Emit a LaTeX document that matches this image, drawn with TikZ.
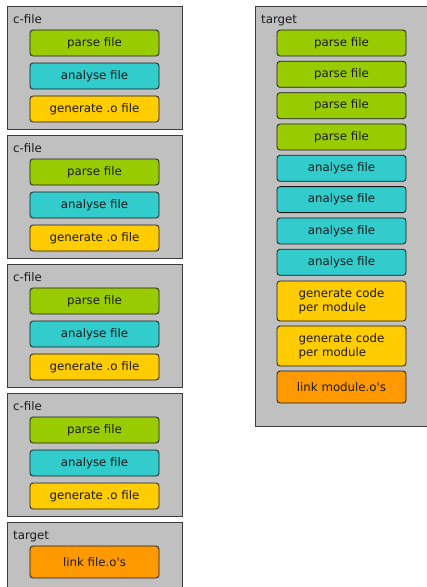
\documentclass[tikz,border=0pt]{standalone}
\usepackage{fontspec}
\newfontfamily\dejavu{DejaVu Sans}
\usetikzlibrary{positioning}
\definecolor{Frame}{HTML}{C0C0C0}
\definecolor{Parse}{HTML}{99CC00}
\definecolor{Analyse}{HTML}{33CCCC}
\definecolor{Gen}{HTML}{FFCC00}
\definecolor{Link}{HTML}{FF9900}
\definecolor{Ink}{HTML}{1A1A1A}

\begin{document}
\begin{tikzpicture}[x=1pt,y=-1pt,
  every node/.style={font=\dejavu\fontsize{11.8}{13.7}\selectfont,text=Ink},
  frame/.style={draw=Ink!85,fill=Frame,line width=0.9pt,anchor=north west,inner sep=0pt},
  task/.style={draw=Ink,line width=0.8pt,rounded corners=3pt,minimum width=129pt,minimum height=26pt,inner sep=1pt},
  tag/.style={anchor=base west,inner sep=0pt}]
\useasboundingbox (0,0) rectangle (427,587);
% one box per c-file
\foreach \i/\y in {1/6,2/135,3/264,4/393} {
  \node[frame,minimum width=175pt,minimum height=123pt] (cfile\i) at (7,\y) {};
  \node[tag] (ctag\i) at (13,\y+17) {c-file};
  \node[task,fill=Parse] (cparse\i) at (94.5,\y+37) {parse file};
  \node[task,fill=Analyse] (canalyse\i) at (94.5,\y+70) {analyse file};
  \node[task,fill=Gen] (cgen\i) at (94.5,\y+103) {generate .o file};
}
\node[frame,minimum width=175pt,minimum height=80pt] (ltarget) at (7,522) {};
\node[tag] (ltag) at (13,539) {target};
\node[task,fill=Link,minimum height=32pt] (llink) at (94.5,562) {link file.o's};
% whole-program target
\node[frame,minimum width=171.5pt,minimum height=420pt] (rtarget) at (255,6) {};
\node[tag] (rtag) at (261,23) {target};
\foreach \k in {0,...,3} {
  \node[task,fill=Parse] (rparse\k) at (341.5,43+31.33*\k) {parse file};
  \node[task,fill=Analyse] (ranalyse\k) at (341.5,168.3+31.33*\k) {analyse file};
}
\node[task,fill=Gen,minimum height=40pt,align=left] (rgen1) at (341.5,301) {generate code\\per module};
\node[task,fill=Gen,minimum height=40pt,align=left] (rgen2) at (341.5,346) {generate code\\per module};
\node[task,fill=Link,minimum height=32pt] (rlink) at (341.5,387) {link module.o's};
\end{tikzpicture}
\end{document}
